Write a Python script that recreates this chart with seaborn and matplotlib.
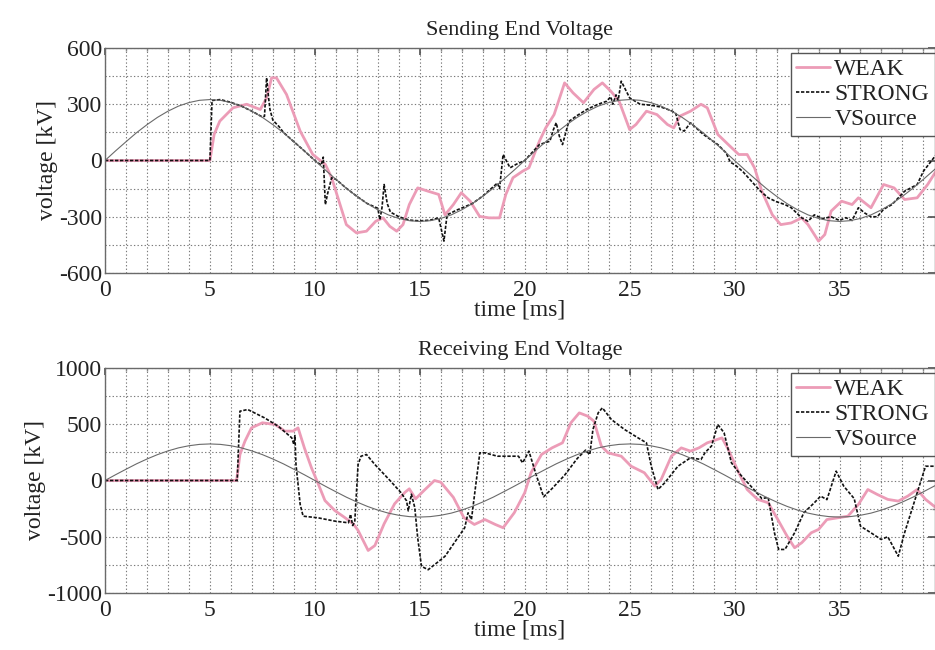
import numpy as np
import pandas as pd
import matplotlib
matplotlib.use("Agg")
import matplotlib.pyplot as plt
from matplotlib.ticker import MultipleLocator
import seaborn as sns

# ---------------- data ----------------
# VSource, sampled every 0.5 ms from 0 to 40 ms
vsrc_t = [i * 0.5 for i in range(81)]
vsrc_v = [0, 51, 100, 148, 191, 230, 263, 290, 309, 321, 325, 321, 309, 290, 263, 230, 191, 148, 100, 51,
          0, -51, -100, -148, -191, -230, -263, -290, -309, -321, -325, -321, -309, -290, -263, -230, -191, -148, -100, -51,
          0, 51, 100, 148, 191, 230, 263, 290, 309, 321, 325, 321, 309, 290, 263, 230, 191, 148, 100, 51,
          0, -51, -100, -148, -191, -230, -263, -290, -309, -321, -325, -321, -309, -290, -263, -230, -191, -148, -100, -51,
          0]

# Sending end
send_strong_t = [0, 5.0, 5.1, 5.5, 6.0, 6.5, 7.0, 7.5, 7.6, 7.7, 7.8, 7.86, 8.0, 8.3, 8.5, 9.0, 9.5, 10.0, 10.3, 10.4,
                 10.5, 10.6, 10.8, 11.0, 11.5, 12.0, 12.5, 13.0, 13.1, 13.2, 13.3, 13.45, 13.6, 14.0, 14.5, 15.0, 15.5,
                 15.9, 16.05, 16.15, 16.3, 16.75, 17.5, 18.0, 18.5, 18.7, 18.8, 18.97, 19.3, 19.6, 20.0, 20.7, 21.2,
                 21.35, 21.5, 21.65, 21.8, 22.1, 22.5, 23.0, 23.5, 23.9, 24.1, 24.2, 24.35, 24.45, 24.6, 25.0, 25.5,
                 26.0, 26.5, 27.0, 27.2, 27.4, 27.6, 27.9, 28.5, 29.2, 29.6, 29.8, 30.0, 30.4, 30.8, 31.2, 31.6, 32.0,
                 32.4, 32.7, 33.2, 33.5, 33.8, 34.2, 34.6, 35.0, 35.3, 35.6, 35.9, 36.2, 36.5, 36.8, 37.1, 37.5, 38.1,
                 38.7, 39.0, 39.6]
send_strong_v = [0, 0, 320, 325, 310, 290, 263, 232, 236, 441, 330, 272, 215, 180, 150, 100, 51, 0, -25, 18,
                 -235, -180, -92, -100, -148, -191, -230, -255, -316, -250, -128, -230, -275, -300, -318, -322, -318,
                 -306, -380, -430, -290, -265, -230, -190, -140, -120, -150, 32, -39, -20, 0, 85, 103,
                 160, 201, 130, 85, 208, 240, 275, 300, 316, 340, 300, 350, 320, 423, 334, 300,
                 295, 285, 265, 250, 165, 157, 201, 140, 85, 40, -10, -21, -60, -110, -160, -199, -220,
                 -235, -252, -306, -324, -290, -310, -300, -320, -305, -320, -252, -280, -300, -300, -260, -235, -164,
                 -128, -57, 30]

send_weak_t = [0, 5.0, 5.2, 5.47, 6.1, 6.75, 7.4, 7.7, 7.94, 8.17, 8.65, 9.3, 9.9, 10.5, 10.8, 11.2, 11.5, 11.98,
               12.46, 12.9, 13.25, 13.57, 13.9, 14.2, 14.5, 14.9, 15.4, 15.9, 16.2, 16.6, 16.98, 17.4, 17.85, 18.3,
               18.8, 19.1, 19.44, 19.9, 20.2, 20.7, 21.0, 21.4, 21.9, 22.3, 22.8, 23.3, 23.7, 24.1, 24.5, 25.0, 25.3,
               25.8, 26.3, 26.8, 27.1, 27.4, 27.9, 28.4, 28.7, 29.2, 29.7, 30.2, 30.6, 30.95, 31.3, 31.8, 32.2, 32.7,
               33.2, 33.5, 34.0, 34.3, 34.6, 35.1, 35.6, 35.9, 36.5, 37.1, 37.6, 38.1, 38.7, 39.2, 39.6]
send_weak_v = [0, 0, 139, 210, 281, 300, 272, 334, 441, 441, 352, 157, 32, -21, -92, -235, -342, -386,
               -377, -324, -306, -351, -377, -342, -235, -146, -164, -181, -290, -235, -172, -217, -298, -306,
               -306, -181, -92, -57, -39, 103, 174, 245, 414, 361, 308, 379, 414, 370, 316, 165, 192,
               263, 245, 192, 174, 237, 263, 300, 281, 139, 85, 32, 32, -39, -164, -290, -342, -333,
               -306, -342, -430, -395, -270, -217, -235, -199, -252, -128, -146, -208, -199, -128, -57]

# Receiving end
recv_strong_t = [0, 6.3, 6.43, 6.8, 7.6, 8.25, 8.9, 9.0, 9.05, 9.1, 9.3, 9.44, 10.16, 10.95, 11.6, 11.7, 11.8, 11.9,
                 12.06, 12.2, 12.46, 12.86, 13.6, 14.1, 14.37, 14.45, 14.6, 14.76, 14.9, 15.08, 15.4, 15.9, 16.2,
                 17.14, 17.3, 17.46, 17.6, 17.86, 18.1, 18.7, 19.7, 19.9, 20.2, 20.3, 20.55, 20.9, 21.3, 21.9, 22.5,
                 22.9, 23.1, 23.25, 23.5, 23.7, 24.13, 24.76, 25.4, 25.8, 26.03, 26.35, 26.67, 27.3, 27.9, 28.4, 28.6,
                 28.9, 29.2, 29.5, 29.85, 30.3, 30.95, 31.3, 31.6, 31.9, 32.1, 32.4, 32.86, 33.3, 33.8, 34.1, 34.4,
                 34.84, 35.2, 35.7, 36.0, 36.5, 36.98, 37.3, 37.8, 38.1, 38.5, 38.9, 39.1, 39.6]
recv_strong_v = [0, 0, 616, 631, 557, 483, 379, 320, 400, 142, -213, -317, -332, -361, -376, -300, -400, -370,
                 142, 216, 231, 142, -4, -107, -181, -270, -122, -240, -509, -763, -793, -719, -674,
                 -420, -287, -347, -139, 246, 246, 216, 216, 157, 261, 200, 47, -145, -72, 47, 195,
                 270, 230, 453, 601, 646, 542, 453, 379, 335, 127, -80, -21, 127, 202, 187, 250,
                 306, 498, 424, 157, 47, -86, -161, -150, -465, -613, -613, -465, -287, -198, -139, -170,
                 83, -50, -161, -406, -465, -524, -500, -673, -465, -228, 9, 127, 127]

recv_weak_t = [0, 6.27, 6.43, 6.67, 6.98, 7.5, 8.1, 8.57, 8.97, 9.2, 9.5, 9.84, 10.16, 10.48, 10.95, 11.4, 11.83,
               12.06, 12.54, 12.86, 13.3, 13.8, 14.3, 14.5, 14.8, 15.2, 15.7, 16.0, 16.6, 17.1, 17.6, 18.1, 18.6,
               18.97, 19.5, 20.0, 20.3, 20.8, 21.3, 21.8, 22.2, 22.6, 23.0, 23.3, 23.65, 23.97, 24.6, 25.07, 25.7,
               26.2, 26.5, 26.99, 27.46, 27.9, 28.3, 28.7, 29.4, 29.7, 30.2, 30.6, 31.1, 31.6, 32.06, 32.5, 32.86,
               33.2, 33.65, 34.0, 34.4, 34.9, 35.4, 35.9, 36.35, 36.8, 37.3, 37.8, 38.25, 38.7, 39.1, 39.6]
recv_weak_v = [0, 0, 231, 350, 468, 513, 498, 439, 439, 468, 290, 112, -30, -178, -267, -326, -385,
               -444, -622, -578, -385, -207, -104, -74, -163, -89, 0, -15, -150, -330, -391, -347, -391,
               -420, -287, -109, 69, 231, 290, 335, 513, 601, 572, 527, 306, 246, 216, 127, 69,
               -50, 9, 216, 290, 261, 290, 335, 379, 276, 69, -80, -168, -198, -347, -494, -598,
               -553, -465, -435, -347, -332, -317, -213, -80, -124, -168, -183, -139, -80, -168, -242]

titles = ["Sending End Voltage", "Receiving End Voltage"]
series_names = ["WEAK", "STRONG", "VSource"]
x_ticks = [0, 5, 10, 15, 20, 25, 30, 35]

# ---------------- style ----------------
sns.set_theme(style="white")
plt.rcParams["font.family"] = ["Liberation Serif", "DejaVu Serif"]
plt.rcParams["axes.unicode_minus"] = False
plt.rcParams["text.color"] = "#222222"
plt.rcParams["axes.labelcolor"] = "#222222"
plt.rcParams["xtick.color"] = "#222222"
plt.rcParams["ytick.color"] = "#222222"

W, H = 935, 650
fig = plt.figure(figsize=(W / 100, H / 100), dpi=100)
ax_left = 105 / W
ax_w = 1.0 - ax_left
ax_h = 225 / H
ax1 = fig.add_axes([ax_left, 1 - 273 / H, ax_w, ax_h])
ax2 = fig.add_axes([ax_left, 1 - 593 / H, ax_w, ax_h])

weak_color = "#ec9cb7"
styles = {
    "WEAK": dict(color=weak_color, linewidth=2.0, linestyle="-"),
    "STRONG": dict(color="#111111", linewidth=1.2, linestyle=(0, (2.0, 1.0))),
    "VSource": dict(color="#6a6a6a", linewidth=0.8, linestyle="-"),
}

panels = [
    (ax1, titles[0], (send_weak_t, send_weak_v), (send_strong_t, send_strong_v), (-600, 600), 300, 150),
    (ax2, titles[1], (recv_weak_t, recv_weak_v), (recv_strong_t, recv_strong_v), (-1000, 1000), 500, 250),
]

for ax, title, weak, strong, ylim, ymaj, ymin in panels:
    data = {
        "WEAK": pd.DataFrame({"t": weak[0], "v": weak[1]}),
        "STRONG": pd.DataFrame({"t": strong[0], "v": strong[1]}),
        "VSource": pd.DataFrame({"t": vsrc_t, "v": vsrc_v}),
    }
    for name in series_names:
        sns.lineplot(data=data[name], x="t", y="v", ax=ax, label=name, sort=False,
                     estimator=None, **styles[name])
    ax.set_xlim(0, 39.55)
    ax.set_ylim(*ylim)
    ax.set_xticks(x_ticks)
    ax.xaxis.set_minor_locator(MultipleLocator(1))
    ax.yaxis.set_major_locator(MultipleLocator(ymaj))
    ax.yaxis.set_minor_locator(MultipleLocator(ymin))
    ax.grid(which="both", linestyle=(0, (1.2, 2.0)), color="#7a7a7a", linewidth=0.8)
    ax.set_axisbelow(True)
    ax.tick_params(which="both", direction="in", top=True, right=True, labelsize=17, pad=5)
    ax.tick_params(which="major", length=5, color="#555555")
    ax.tick_params(which="minor", length=2.5, color="#888888")
    ax.tick_params(axis="y", pad=2)
    for sp in ax.spines.values():
        sp.set_color("#6a6a6a")
        sp.set_linewidth(1.0)
    ax.set_xlabel("time [ms]", fontsize=17, labelpad=-1)
    ax.set_ylabel("voltage [kV]", fontsize=17, labelpad=1)
    ax.set_title(title, fontsize=16, pad=9)
    leg = ax.legend(loc="upper left", bbox_to_anchor=(0.826, 0.978), fontsize=17,
                    frameon=True, fancybox=False, framealpha=1, edgecolor="#555555",
                    handlelength=1.4, handletextpad=0.2, labelspacing=0.14, borderpad=0.25,
                    borderaxespad=0.0)
    leg.get_frame().set_linewidth(1.0)

fig.savefig("out.png", dpi=100)
